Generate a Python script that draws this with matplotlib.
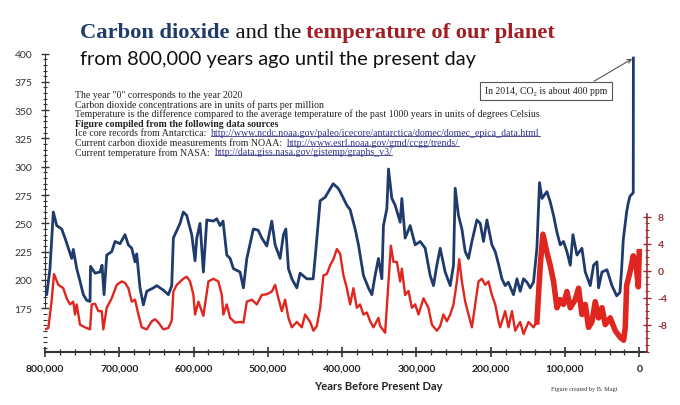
import matplotlib
matplotlib.use("Agg")
import matplotlib.pyplot as plt
from matplotlib.lines import Line2D
from matplotlib.ticker import MultipleLocator, FuncFormatter

# CO2 (ppm), age in thousands of years before present
co2_age = [800, 797.7, 793.3, 788.8, 784.2, 777.5, 773.1, 768.6, 764.0, 761.9,
           757.3, 752.9, 748.4, 743.8, 739.4, 738.7, 732.6, 726.0, 723.2, 720.5,
           716.9, 710.2, 705.7, 699.0, 692.3, 687.8, 683.2, 678.8, 676.5, 672.1,
           667.6, 663.0, 654.1, 649.6, 640.7, 633.9, 629.4, 627.2, 618.2, 613.8,
           609.2, 602.5, 598.0, 595.7, 591.3, 586.8, 582.2, 573.3, 568.8, 564.3,
           560.3, 555.3, 550.8, 546.4, 537.4, 532.9, 528.3, 519.5, 513.1, 508.1,
           501.4, 494.7, 490.2, 483.5, 479.0, 475.8, 472.3, 467.7, 461.0, 456.6,
           447.5, 439.0, 436.4, 429.6, 422.9, 412.1, 405.4, 402.7, 393.7, 389.2,
           382.5, 378.0, 371.3, 364.6, 360.0, 355.6, 351.1, 346.5, 344.4, 339.8,
           337.6, 333.1, 328.6, 321.9, 319.6, 315.2, 308.4, 301.7, 294.9, 288.2,
           281.5, 277.0, 272.5, 268.0, 261.3, 254.5, 250.1, 247.8, 243.4, 238.8,
           234.3, 229.9, 225.3, 218.6, 214.1, 209.7, 205.1, 198.4, 193.9, 189.5,
           184.9, 180.5, 176.4, 169.3, 164.7, 160.3, 155.8, 151.2, 146.8, 142.4,
           137.8, 134.3, 131.0, 124.3, 119.9, 115.4, 110.8, 106.4, 102.0, 97.4,
           92.9, 89.3, 83.9, 77.2, 72.7, 66.0, 61.5, 57.0, 54.8, 50.2,
           43.5, 36.8, 30.4, 26.0, 23.7, 21.5, 17.0, 14.8, 12.5, 8.1, 7.9]
co2_ppm = [190, 187, 210, 260, 248, 245, 237, 228, 219, 227,
           210, 199, 187, 182, 181, 212, 206, 207, 213, 187,
           222, 225, 234, 232, 240, 231, 228, 216, 223, 193,
           178, 190, 193, 195, 191, 187, 195, 237, 250, 260,
           257, 240, 217, 237, 250, 207, 253, 252, 254, 248,
           252, 222, 219, 210, 207, 193, 219, 245, 244, 237,
           230, 252, 231, 219, 240, 245, 210, 201, 193, 206,
           201, 201, 219, 270, 273, 285, 281, 278, 266, 262,
           245, 231, 204, 193, 187, 204, 219, 201, 248, 263,
           298, 272, 266, 251, 272, 237, 248, 231, 234, 228,
           204, 195, 213, 228, 207, 195, 213, 281, 257, 245,
           225, 219, 234, 253, 250, 234, 253, 231, 225, 214,
           201, 195, 198, 187, 201, 190, 201, 198, 193, 198,
           228, 286, 272, 278, 269, 257, 242, 231, 234, 225,
           213, 240, 222, 228, 207, 195, 213, 216, 193, 207,
           209, 195, 186, 189, 210, 236, 260, 268, 274, 277, 396]

# temperature anomaly (deg C)
temp_age = [800, 795.5, 791.1, 787.9, 782.1, 775.4, 770.8, 766.3, 761.9, 759.6,
            757.3, 752.9, 746.1, 739.4, 737.1, 732.6, 728.2, 723.6, 721.5, 716.9,
            710.2, 703.4, 696.7, 692.3, 687.8, 683.2, 678.8, 674.3, 669.7, 663.0,
            656.3, 651.8, 647.3, 640.7, 633.9, 629.4, 627.2, 622.6, 613.8, 609.2,
            604.7, 600.2, 598.0, 593.5, 586.8, 580.0, 573.3, 566.6, 562.0, 559.9,
            555.3, 550.8, 544.1, 537.4, 532.9, 528.3, 521.6, 514.9, 508.1, 501.4,
            494.7, 490.2, 485.8, 481.2, 476.8, 472.3, 467.7, 461.0, 454.3, 449.8,
            443.1, 438.6, 434.1, 429.6, 425.2, 420.6, 416.2, 411.7, 407.1, 402.7,
            398.2, 393.7, 389.2, 384.8, 380.2, 375.8, 371.3, 366.7, 362.3, 357.8,
            351.1, 348.8, 342.1, 337.6, 334.4, 330.9, 326.3, 321.9, 319.6, 315.2,
            310.7, 306.1, 301.7, 297.2, 290.5, 283.8, 279.2, 272.5, 268.0, 263.6,
            259.0, 254.5, 250.1, 245.5, 242.4, 238.8, 234.3, 229.9, 225.3, 220.9,
            216.4, 211.9, 207.4, 203.0, 198.4, 193.9, 189.5, 187.2, 180.5, 176.0,
            171.4, 167.0, 160.3, 155.8, 149.1, 142.4, 137.8, 133.3, 129.7, 124.3,
            119.9, 115.4, 110.8, 106.4, 102.0, 97.4, 92.9, 86.2, 81.7, 77.2,
            72.7, 68.3, 63.7, 59.3, 54.8, 50.2, 45.8, 39.1, 32.3, 25.6,
            21.1, 18.9, 17.0, 12.5, 8.1, 4.0, 1.3, 0.0]
temp_c = [-8.7, -8.5, -4.5, -0.5, -2.1, -2.6, -4.1, -5.0, -4.6, -6.5,
          -5.0, -8.0, -8.4, -8.7, -5.0, -4.9, -6.0, -6.0, -8.7, -5.5,
          -4.1, -2.1, -1.6, -1.8, -2.6, -4.6, -4.3, -6.5, -8.4, -8.7,
          -7.5, -7.2, -7.7, -8.7, -8.5, -7.4, -3.1, -2.1, -1.2, -0.9,
          -1.6, -3.6, -6.5, -4.6, -6.7, -1.6, -1.2, -1.6, -3.6, -6.5,
          -5.0, -7.0, -7.7, -7.6, -7.7, -4.6, -4.3, -5.0, -3.6, -3.5,
          -3.1, -2.1, -4.1, -6.0, -4.3, -7.0, -8.4, -7.6, -8.4, -6.5,
          -7.6, -8.9, -8.2, -5.5, -0.7, -0.5, 0.8, 1.7, 3.2, 2.5,
          -0.7, -2.6, -5.0, -2.6, -5.5, -5.0, -6.5, -6.2, -7.5, -8.4,
          -7.0, -8.2, -9.2, -1.6, 3.7, 1.3, 1.3, -1.6, 0.3, -3.6,
          -3.0, -5.5, -5.0, -6.5, -4.1, -5.5, -8.0, -8.9, -8.2, -6.5,
          -7.5, -6.5, -5.0, -1.6, 1.7, -1.6, -4.6, -6.5, -8.4, -5.0,
          -1.6, -1.2, -2.1, -1.6, -3.6, -5.0, -7.5, -8.4, -6.0, -8.4,
          -6.0, -8.9, -7.6, -9.4, -7.6, -8.4, -7.6, 0.8, 5.4, 2.7,
          0.8, -1.6, -5.5, -4.3, -5.0, -3.1, -5.5, -4.3, -2.6, -6.5,
          -5.0, -8.4, -7.6, -4.6, -7.0, -5.5, -8.0, -7.0, -8.9, -9.9,
          -10.3, -8.5, -2.2, -0.2, 2.2, 0.5, -2.4, 2.8]

co2_ticks = [175, 200, 225, 250, 275, 300, 325, 350, 375, 400]
temp_ticks = [-8, -4, 0, 4, 8]
year_ticks = [800000, 700000, 600000, 500000, 400000, 300000, 200000, 100000, 0]

navy = "#1f3b6b"
red = "#e0261e"
dark_red = "#9c2f33"
sans = ["Lato", "DejaVu Sans"]
serif = ["Liberation Serif", "DejaVu Serif"]

fig = plt.figure(figsize=(6.8, 4.06), dpi=100)
W, H = 680.0, 406.0

ax = fig.add_axes([45 / W, (H - 353.3) / H, (646.7 - 45) / W, (353.3 - 50) / H])
ax2 = ax.twinx()

years_co2 = [a * 1000 for a in co2_age]
years_t = [a * 1000 for a in temp_age]

ax.plot(years_co2, co2_ppm, color=navy, lw=2.0, zorder=3)
ax2.plot(years_t, temp_c, color=red, lw=1.7, zorder=2)
# the recent part of the temperature record is much denser -> thicker band
recent = [(y, t) for y, t in zip(years_t, temp_c) if y <= 138000]
ax2.plot([r[0] for r in recent], [r[1] for r in recent], color=red, lw=4.0, zorder=2)

ax.set_xlim(800000, -10000)
ax.set_ylim(136.1, 404.0)
ax2.set_ylim(-12.1, 32.85)

# spines
for s in ["top", "right"]:
    ax.spines[s].set_visible(False)
for s in ["top", "left", "bottom"]:
    ax2.spines[s].set_visible(False)
ax.spines["left"].set_bounds(175, 400)
ax.spines["left"].set_color("#333333")
ax.spines["bottom"].set_color("#333333")
ax.spines["bottom"].set_linewidth(1.5)
ax2.spines["right"].set_bounds(-12.1, 8.4)
ax2.spines["right"].set_color(dark_red)
ax2.spines["right"].set_linewidth(1.2)

# ticks
ax.set_yticks(co2_ticks)
ax.yaxis.set_minor_locator(MultipleLocator(5))
ax.set_xticks(year_ticks)
ax.xaxis.set_minor_locator(MultipleLocator(20000))
ax.xaxis.set_major_formatter(FuncFormatter(lambda v, p: f"{int(v):,}"))
ax.tick_params(axis="y", which="major", direction="inout", length=6, width=1,
               color="#333333", labelsize=7.5, labelcolor="#333333", pad=6)
ax.tick_params(axis="y", which="minor", direction="inout", length=3, width=0.8,
               color="#333333")
ax.tick_params(axis="x", which="major", direction="inout", length=7, width=1.2,
               color="#333333", labelsize=7.5, labelcolor="#222222", pad=5)
ax.tick_params(axis="x", which="minor", direction="inout", length=4, width=0.9,
               color="#333333")
for lab in ax.get_xticklabels():
    lab.set_fontweight("bold")
    lab.set_family(sans)
for lab in ax.get_yticklabels():
    lab.set_family(sans)

ax2.set_yticks(temp_ticks)
ax2.set_yticklabels([str(t) for t in temp_ticks])
# minor ticks only along the visible part of the right spine
ax2.set_yticks([m for m in range(-12, 9)], minor=True)
ax2.tick_params(axis="y", which="major", direction="inout", length=6, width=1,
                color=dark_red, labelsize=7.5, labelcolor=dark_red, pad=5)
ax2.tick_params(axis="y", which="minor", direction="inout", length=3, width=0.8,
                color=dark_red)
for lab in ax2.get_yticklabels():
    lab.set_family(sans)
    lab.set_fontweight("bold")

fig.text(378 / W, (H - 387) / H, "Years Before Present Day", ha="center", va="center",
         fontsize=8, fontweight="bold", family=sans, color="#222222")
fig.text(584 / W, (H - 390) / H, "Figure created by B. Magi", ha="center", va="center",
         fontsize=4.5, family=serif, color="#333333")

renderer = fig.canvas.get_renderer()


def put_pieces(x_px, y_px, pieces):
    # write text pieces one after another on a line, return the text objects
    out = []
    for txt, kw in pieces:
        t = fig.text(x_px / W, (H - y_px) / H, txt, va="center", ha="left", **kw)
        bb = t.get_window_extent(renderer)
        x_px = bb.x1
        out.append(t)
    return out


# title
put_pieces(80, 33, [
    ("Carbon dioxide", dict(fontsize=16.2, fontweight="bold", color=navy, family=serif)),
    (" and the ", dict(fontsize=16.2, color="#111111", family=serif)),
    ("temperature of our planet", dict(fontsize=16.2, fontweight="bold", color="#a01e24",
                                        family=serif)),
])
fig.text(80 / W, (H - 60) / H, "from 800,000 years ago until the present day",
         va="center", ha="left", fontsize=14.4, color="#111111", family=sans)

# note block
note_kw = dict(fontsize=7.1, color="#222222", family=serif)
link_kw = dict(fontsize=7.1, color="#34348a", family=serif)
notes = [
    [('The year "0" corresponds to the year 2020', note_kw)],
    [("Carbon dioxide concentrations are in units of parts per million", note_kw)],
    [("Temperature is the difference compared to the average temperature of the past "
      "1000 years in units of degrees Celsius", note_kw)],
    [("Figure compiled from the following data sources", dict(note_kw, fontweight="bold"))],
    [("Ice core records from Antarctica:  ", note_kw),
     ("http://www.ncdc.noaa.gov/paleo/icecore/antarctica/domec/domec_epica_data.html", link_kw)],
    [("Current carbon dioxide measurements from NOAA:  ", note_kw),
     ("http://www.esrl.noaa.gov/gmd/ccgg/trends/", link_kw)],
    [("Current temperature from NASA:  ", note_kw),
     ("http://data.giss.nasa.gov/gistemp/graphs_v3/", link_kw)],
]
note_y = [95, 105, 114.3, 124.3, 133.7, 143.3, 152.7]
for pieces, y in zip(notes, note_y):
    texts = put_pieces(75, y, pieces)
    if len(texts) > 1:
        bb = texts[-1].get_window_extent(renderer)
        fig.add_artist(Line2D([bb.x0 / W, bb.x1 / W], [(bb.y0 + 1) / H, (bb.y0 + 1) / H],
                              color="#34348a", lw=0.6))

# callout for the modern value
ax.annotate("In 2014, CO\u2082 is about 400 ppm", xy=(7900, 396), xycoords="data",
            xytext=(546 / W, (H - 92) / H), textcoords="figure fraction",
            ha="center", va="center", fontsize=7, family=serif, color="#222222",
            bbox=dict(boxstyle="square,pad=0.5", fc="white", ec="#555555", lw=0.8),
            arrowprops=dict(arrowstyle="->", color="#555555", lw=0.8,
                            relpos=(0.82, 1.0), shrinkA=0, shrinkB=1))

fig.savefig("out.png", dpi=100)
